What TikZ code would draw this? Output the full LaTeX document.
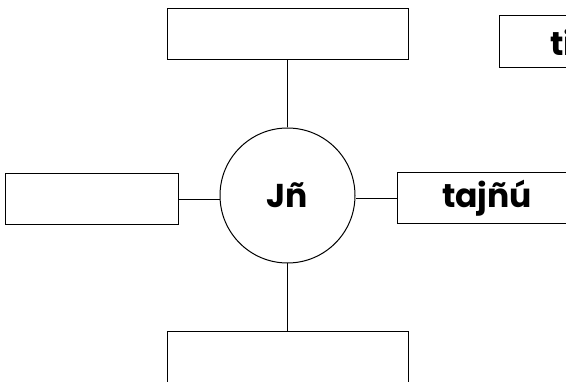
\documentclass[tikz,border=0pt]{standalone}
\usepackage{fontspec}
\setmainfont{Poppins}
\begin{document}
\begin{tikzpicture}[x=1pt,y=-1pt,
  box/.style={draw=black,line width=1pt,rectangle,inner sep=0pt,minimum height=51pt,font=\fontsize{33}{36}\selectfont\bfseries},
  hub/.style={draw=black,line width=1pt,circle,inner sep=0pt,minimum size=135pt,font=\fontsize{33}{36}\selectfont\bfseries},
  link/.style={draw=black,line width=1pt}]
\useasboundingbox (0,0) rectangle (566,382);
\clip (0,0) rectangle (566,382);
\node[hub] (c) at (287.5,195.5) {Jñ};
\node[box,minimum width=241pt] (top) at (287.5,34) {};
\node[box,minimum width=173pt] (left) at (91.5,199.5) {};
\node[box,minimum width=180pt] (right) at (487,198.5) {tajñú};
\node[box,minimum width=241pt] (bot) at (287.5,357) {};
\node[box,text width=109pt,align=left,inner xsep=51pt,minimum height=52pt] (tr) at (604.5,42) {ti};
\draw[link] (c.north) -- (top.south);
\draw[link] (c.south) -- (bot.north);
\draw[link] (left.east) -- (left.east -| c.west);
\draw[link] (right.west) -- (right.west -| c.east);
\end{tikzpicture}
\end{document}
